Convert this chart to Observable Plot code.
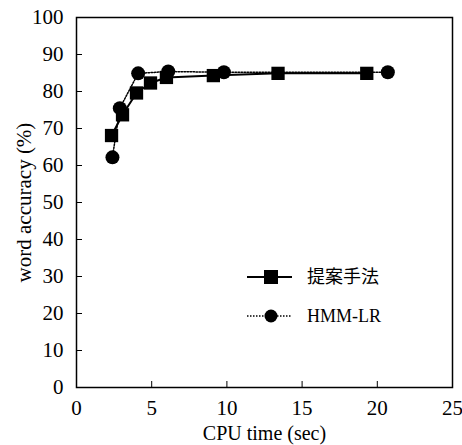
<!DOCTYPE html>
<html><head><meta charset="utf-8">
<script src="https://cdn.jsdelivr.net/npm/d3@7"></script>
<script src="https://cdn.jsdelivr.net/npm/@observablehq/plot@0.6"></script>
<style>
body{margin:0;background:#fff;}
#wrap{position:relative;width:462px;height:445px;}
#legend{position:absolute;left:0;top:0;}
#wrap svg text{font-family:"Liberation Serif","Times New Roman","DejaVu Serif","Noto Sans CJK JP",serif;}
</style>
</head><body><div id="wrap"></div>
<script>
const seriesNames = ["提案手法", "HMM-LR"];
const propTime = [2.33, 3.06, 3.99, 4.92, 5.98, 9.1, 13.4, 19.3];
const propAcc  = [68.1, 73.7, 79.6, 82.3, 83.8, 84.3, 84.9, 84.9];
const hmmTime  = [2.39, 2.88, 4.1, 6.1, 9.8, 20.7];
const hmmAcc   = [62.2, 75.5, 84.9, 85.4, 85.2, 85.2];
const xTicks = [0, 5, 10, 15, 20, 25];
const yTicks = [0, 10, 20, 30, 40, 50, 60, 70, 80, 90, 100];

const prop = propTime.map((t, i) => ({t, a: propAcc[i]}));
const hmm = hmmTime.map((t, i) => ({t, a: hmmAcc[i]}));
const font = "'Liberation Serif','Times New Roman','DejaVu Serif','Noto Sans CJK JP',serif";

const chart = Plot.plot({
  width: 462, height: 445,
  marginLeft: 76, marginRight: 10, marginTop: 17, marginBottom: 58,
  style: {fontFamily: font, fontSize: "20px", color: "#000", background: "#fff"},
  x: {domain: [0, 25]},
  y: {domain: [0, 100]},
  marks: [
    Plot.frame({stroke: "#000", strokeWidth: 1.5}),
    Plot.axisX({ticks: xTicks, tickSize: 6, dy: -6, tickPadding: 13, label: null, strokeWidth: 1, fontSize: 21}),
    Plot.axisX({ticks: [], label: "CPU time (sec)", labelAnchor: "center", labelArrow: "none", labelOffset: 52, fontSize: 20}),
    Plot.axisY({ticks: yTicks, tickSize: 6, dx: 6, tickPadding: 13, label: "word accuracy (%)", labelAnchor: "center", labelArrow: "none", labelOffset: 60, strokeWidth: 1, fontSize: 21}),
    Plot.line(hmm, {x: "t", y: "a", stroke: "#000", strokeWidth: 1.5, strokeDasharray: "1.5,1.5"}),
    Plot.line(prop, {x: "t", y: "a", stroke: "#000", strokeWidth: 2}),
    Plot.dot(prop, {x: "t", y: "a", symbol: "square", r: 7.5, fill: "#000"}),
    Plot.dot(hmm, {x: "t", y: "a", symbol: "circle", r: 7, fill: "#000"})
  ]
});
document.getElementById("wrap").appendChild(chart);

// legend overlay
const lg = d3.select("#wrap").append("svg").attr("id", "legend").attr("width", 462).attr("height", 445);
const items = [{y: 277, dash: null, sym: "square", w: 2}, {y: 316, dash: "1.5,1.5", sym: "circle", w: 1.5}];
items.forEach((it, i) => {
  lg.append("line").attr("x1", 247).attr("x2", 292).attr("y1", it.y).attr("y2", it.y)
    .attr("stroke", "#000").attr("stroke-width", it.w).attr("stroke-dasharray", it.dash);
  if (it.sym === "square") lg.append("rect").attr("x", 264).attr("y", it.y - 7).attr("width", 14).attr("height", 14).attr("fill", "#000");
  else lg.append("circle").attr("cx", 271).attr("cy", it.y).attr("r", 6.5).attr("fill", "#000");
  lg.append("text").attr("x", 307).attr("y", it.y).attr("dy", "0.35em")
    .attr("font-size", 18).text(seriesNames[i]);
});
</script></body></html>
